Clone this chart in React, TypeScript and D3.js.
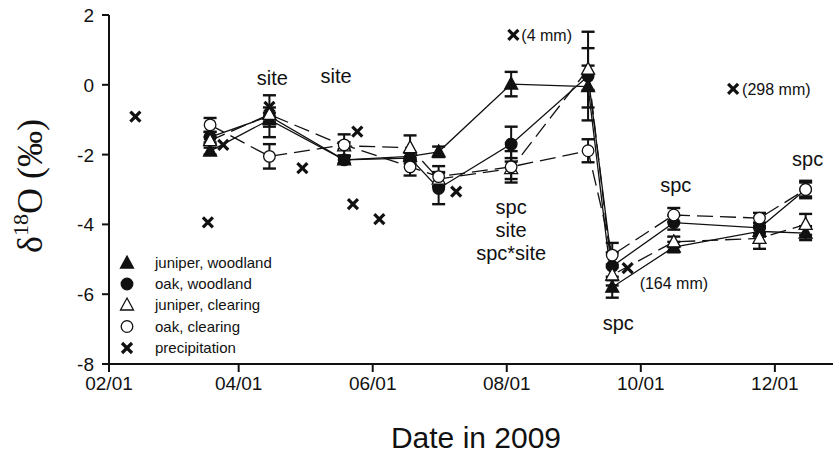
import React from "react";
import * as d3 from "d3";

// ---- data ----
const sampleDates = ["2009-03-19", "2009-04-15", "2009-05-19", "2009-06-18", "2009-07-01", "2009-08-03", "2009-09-07", "2009-09-18", "2009-10-16", "2009-11-24", "2009-12-15"];
const juniperWoodland = [-1.9, -1.0, -2.15, -2.05, -1.92, 0.02, -0.05, -5.8, -4.65, -4.2, -4.25];
const juniperWoodlandErr = [0.1, 0.2, 0.1, 0.1, 0.15, 0.35, 0.6, 0.3, 0.15, 0.15, 0.2];
const oakWoodland = [-1.5, -0.9, -2.15, -2.1, -2.97, -1.7, 0.25, -5.2, -3.95, -4.1, -3.0];
const oakWoodlandErr = [0.15, 0.6, 0.1, 0.15, 0.45, 0.5, 1.27, 0.4, 0.2, 0.15, 0.2];
const juniperClearing = [-1.6, -0.85, -1.75, -1.8, -2.7, -2.4, 0.45, -5.45, -4.5, -4.4, -4.0];
const juniperClearingErr = [0.1, 0.2, 0.1, 0.35, 0.2, 0.3, 0.6, 0.3, 0.15, 0.3, 0.3];
const oakClearing = [-1.15, -2.05, -1.72, -2.35, -2.63, -2.35, -1.89, -4.88, -3.73, -3.82, -3.0];
const oakClearingErr = [0.2, 0.35, 0.3, 0.25, 0.3, 0.45, 0.33, 0.35, 0.2, 0.15, 0.25];

const precipDates = ["2009-02-13", "2009-03-18", "2009-03-25", "2009-04-15", "2009-04-30", "2009-05-23", "2009-05-25", "2009-06-04", "2009-07-09", "2009-08-04", "2009-09-25", "2009-11-12"];
const precipValues = [-0.91, -3.94, -1.72, -0.63, -2.39, -3.42, -1.34, -3.85, -3.06, 1.43, -5.25, -0.12];

const xTickDates = ["2009-02-01", "2009-04-01", "2009-06-01", "2009-08-01", "2009-10-01", "2009-12-01"];
const xTickLabels = ["02/01", "04/01", "06/01", "08/01", "10/01", "12/01"];
const yTicks = [2, 0, -2, -4, -6, -8];

const legendLabels = ["juniper, woodland", "oak, woodland", "juniper, clearing", "oak, clearing", "precipitation"];

const parse = (s: string) => {
  const [yy, mm, dd] = s.split("-").map(Number);
  return new Date(yy, mm - 1, dd);
};

const FONT = "'Liberation Sans', Arial, Helvetica, sans-serif";

type Shape = "triUp" | "circle" | "x";

function Marker({ cx, cy, shape, filled }: { cx: number; cy: number; shape: Shape; filled: boolean }) {
  const fill = filled ? "#111" : "#fff";
  if (shape === "triUp") {
    const p = `M${cx},${cy - 7} L${cx + 6.5},${cy + 5} L${cx - 6.5},${cy + 5} Z`;
    return <path d={p} fill={fill} stroke="#111" strokeWidth={1.3} />;
  }
  if (shape === "circle") {
    return <circle cx={cx} cy={cy} r={5.8} fill={fill} stroke="#111" strokeWidth={1.3} />;
  }
  const s = 5;
  return (
    <g stroke="#111" strokeWidth={3.2} strokeLinecap="butt">
      <line x1={cx - s} y1={cy - s} x2={cx + s} y2={cy + s} />
      <line x1={cx - s} y1={cy + s} x2={cx + s} y2={cy - s} />
    </g>
  );
}

export default function App() {
  const W = 837;
  const H = 453;
  const x = d3.scaleTime().domain([new Date(2009, 1, 1), new Date(2009, 11, 27)]).range([109, 832]);
  const y = d3.scaleLinear().domain([-8, 2]).range([364, 15]);

  const dates = sampleDates.map(parse);
  const series = [
    { vals: juniperWoodland, err: juniperWoodlandErr, shape: "triUp" as Shape, filled: true, dash: "" },
    { vals: oakWoodland, err: oakWoodlandErr, shape: "circle" as Shape, filled: true, dash: "" },
    { vals: juniperClearing, err: juniperClearingErr, shape: "triUp" as Shape, filled: false, dash: "16,7" },
    { vals: oakClearing, err: oakClearingErr, shape: "circle" as Shape, filled: false, dash: "16,7" },
  ];

  const line = d3
    .line<number>()
    .x((_, i) => x(dates[i]))
    .y((v) => y(v));

  const legendRowsY = [263, 284, 305, 326.5, 348];

  return (
    <svg width={W} height={H} style={{ position: "absolute", left: 0, top: 0, background: "#fff" }} fontFamily={FONT}>
      <rect x={0} y={0} width={W} height={H} fill="#fff" />
      {/* axes */}
      <line x1={109} y1={y(2)} x2={109} y2={y(-8) + 1} stroke="#111" strokeWidth={2} />
      <line x1={108} y1={y(-8)} x2={833} y2={y(-8)} stroke="#111" strokeWidth={2} />
      {yTicks.map((t) => (
        <g key={t}>
          <line x1={102} x2={109} y1={y(t)} y2={y(t)} stroke="#111" strokeWidth={2} />
          <text x={94} y={y(t) + 7} textAnchor="end" fontSize={19} fill="#111">
            {t}
          </text>
        </g>
      ))}
      {xTickDates.map((d, i) => (
        <g key={d}>
          <line x1={x(parse(d))} x2={x(parse(d))} y1={y(-8)} y2={y(-8) + 8} stroke="#111" strokeWidth={2} />
          <text x={x(parse(d))} y={390} textAnchor="middle" fontSize={19} fill="#111">
            {xTickLabels[i]}
          </text>
        </g>
      ))}
      <text x={476} y={448} textAnchor="middle" fontSize={30} fill="#111">
        Date in 2009
      </text>
      <text transform="translate(42,186) rotate(-90)" textAnchor="middle" fontFamily="'Liberation Serif', 'Times New Roman', serif" fontSize={36} fill="#111">
        δ<tspan fontSize={22} dy={-14}>18</tspan>
        <tspan dy={14}>O (‰)</tspan>
      </text>

      {/* series lines */}
      {series.map((s, si) => (
        <path key={"l" + si} d={line(s.vals) || ""} fill="none" stroke="#111" strokeWidth={1.3} strokeDasharray={s.dash} />
      ))}
      {/* error bars */}
      {series.map((s, si) =>
        s.vals.map((v, i) => {
          const cx = x(dates[i]);
          const y1 = y(v + s.err[i]);
          const y2 = y(v - s.err[i]);
          return (
            <g key={"e" + si + "-" + i} stroke="#111" strokeWidth={2}>
              <line x1={cx} x2={cx} y1={y1} y2={y2} />
              <line x1={cx - 6.5} x2={cx + 6.5} y1={y1} y2={y1} strokeWidth={2.4} />
              <line x1={cx - 6.5} x2={cx + 6.5} y1={y2} y2={y2} strokeWidth={2.4} />
            </g>
          );
        })
      )}
      {/* markers */}
      {series.map((s, si) =>
        s.vals.map((v, i) => <Marker key={"m" + si + "-" + i} cx={x(dates[i])} cy={y(v)} shape={s.shape} filled={s.filled} />)
      )}
      {/* precipitation */}
      {precipValues.map((v, i) => (
        <Marker key={"p" + i} cx={x(parse(precipDates[i]))} cy={y(v)} shape="x" filled />
      ))}
      <text x={x(parse(precipDates[9])) + 8} y={y(precipValues[9]) + 6} fontSize={16} fill="#111">(4 mm)</text>
      <text x={x(parse(precipDates[10])) + 12} y={y(precipValues[10]) + 21} fontSize={16} fill="#111">(164 mm)</text>
      <text x={x(parse(precipDates[11])) + 9} y={y(precipValues[11]) + 6} fontSize={16} fill="#111">(298 mm)</text>

      {/* significance annotations */}
      <g fontSize={20} fill="#111" textAnchor="middle">
        <text x={x(dates[1]) + 3} y={85}>site</text>
        <text x={x(dates[2]) - 8} y={83}>site</text>
        <text x={x(dates[5])} y={214}>spc</text>
        <text x={x(dates[5])} y={237}>site</text>
        <text x={x(dates[5])} y={260}>spc*site</text>
        <text x={x(dates[7]) + 6} y={330}>spc</text>
        <text x={x(dates[8]) + 2} y={192}>spc</text>
        <text x={x(dates[10]) + 2} y={166}>spc</text>
      </g>

      {/* legend */}
      {legendLabels.map((lab, i) => {
        const shape: Shape = i === 4 ? "x" : i % 2 === 0 ? "triUp" : "circle";
        const filled = i < 2 || i === 4;
        return (
          <g key={lab}>
            <Marker cx={127} cy={legendRowsY[i]} shape={shape} filled={filled} />
            <text x={155} y={legendRowsY[i] + 5} fontSize={15} fill="#111">
              {lab}
            </text>
          </g>
        );
      })}
    </svg>
  );
}
